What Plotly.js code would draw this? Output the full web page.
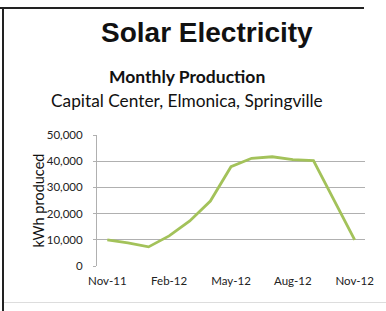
<!DOCTYPE html>
<html>
<head>
<meta charset="utf-8">
<script src="https://cdn.plot.ly/plotly-3.0.1.min.js"></script>
<style>
  html, body { margin: 0; padding: 0; background: #fff; }
  #wrap { position: relative; width: 386px; height: 311px; overflow: hidden; }
  #chart { width: 386px; height: 311px; }
  .frame { position: absolute; pointer-events: none; }
</style>
</head>
<body>
<div id="wrap">
  <div id="chart"></div>
  <div class="frame" style="left:2px; top:7px; width:2px; height:304px; background:#222;"></div>
  <div class="frame" style="left:0px; top:7px; width:364px; height:2px; background:#222;"></div>
  <div class="frame" style="left:4px; top:302px; width:382px; height:1px; background:#ddd;"></div>
</div>
<script>
const months = ["Nov-11","Dec-11","Jan-12","Feb-12","Mar-12","Apr-12","May-12","Jun-12","Jul-12","Aug-12","Sep-12","Oct-12","Nov-12"];
const kwhProduced = [10000, 8800, 7300, 11500, 17200, 24800, 37900, 41100, 41700, 40600, 40200, 25300, 10000];
const xTickLabels = ["Nov-11","Feb-12","May-12","Aug-12","Nov-12"];
const yTickValues = [0, 10000, 20000, 30000, 40000, 50000];

const bodyFont = "Lato, 'Open Sans', sans-serif";

const trace = {
  x: months,
  y: kwhProduced,
  type: 'scatter',
  mode: 'lines',
  line: { color: '#a3c25a', width: 2.8 },
  hoverinfo: 'skip'
};

const layout = {
  width: 386, height: 311,
  margin: { l: 97, r: 21, t: 135, b: 44.5 },
  paper_bgcolor: '#fff', plot_bgcolor: '#fff',
  showlegend: false,
  xaxis: {
    type: 'category',
    categoryorder: 'array', categoryarray: months,
    range: [-0.5, 12.5],
    tickvals: xTickLabels, ticktext: xTickLabels,
    showgrid: false, zeroline: false, showline: false,
    ticks: '', ticklen: 0,
    ticklabelstandoff: 6,
    tickfont: { family: bodyFont, size: 11.5, color: '#222' },
    fixedrange: true
  },
  yaxis: {
    range: [0, 50000],
    tickvals: yTickValues,
    tickformat: ',d',
    showgrid: true, gridcolor: '#b0b0b0', gridwidth: 1,
    zeroline: false,
    showline: true, linecolor: '#b0b0b0', linewidth: 1,
    ticks: 'outside', ticklen: 3, tickcolor: '#b0b0b0',
    ticklabelstandoff: 8,
    tickfont: { family: bodyFont, size: 11.5, color: '#222' },
    fixedrange: true
  },
  annotations: [
    { text: '<b>Solar Electricity</b>', xref: 'paper', yref: 'paper', x: 0.412, y: 1.0, yshift: 103,
      showarrow: false, xanchor: 'center', yanchor: 'middle',
      font: { family: 'Liberation Sans, Arial, sans-serif', size: 28, color: '#111' } },
    { text: '<b>Monthly Production</b>', xref: 'paper', yref: 'paper', x: 0.336, y: 1.0, yshift: 59,
      showarrow: false, xanchor: 'center', yanchor: 'middle',
      font: { family: bodyFont, size: 17.5, color: '#111' } },
    { text: 'Capital Center, Elmonica, Springville', xref: 'paper', yref: 'paper', x: 0.336, y: 1.0, yshift: 35,
      showarrow: false, xanchor: 'center', yanchor: 'middle',
      font: { family: bodyFont, size: 17.3, color: '#111' } },
    { text: 'kWh produced', xref: 'paper', yref: 'paper', x: 0, xshift: -59, y: 0.5,
      showarrow: false, xanchor: 'center', yanchor: 'middle', textangle: -90,
      font: { family: bodyFont, size: 14.5, color: '#111' } }
  ]
};

Plotly.newPlot('chart', [trace], layout, { staticPlot: true, displayModeBar: false });
</script>
</body>
</html>
